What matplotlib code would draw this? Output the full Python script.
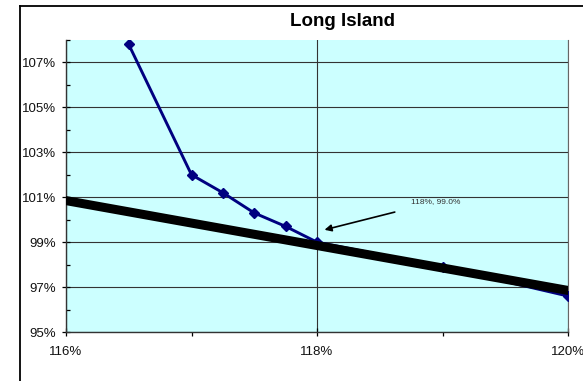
import matplotlib.pyplot as plt
from matplotlib.ticker import FixedLocator, FuncFormatter
from matplotlib.lines import Line2D

plt.rcParams['font.family'] = ['Liberation Sans', 'DejaVu Sans']

# blue series
x_pts = [116.5, 117.0, 117.25, 117.5, 117.75, 118.0, 119.0, 120.0]
y_pts = [107.8, 102.0, 101.2, 100.3, 99.7, 99.0, 97.9, 96.6]

# straight black line
x_line = [116.0, 120.0]
y_line = [100.85, 96.85]

x_major = [116, 118, 120]
x_minor = [117, 119]
y_major = [95, 97, 99, 101, 103, 105, 107]
y_minor = [96, 98, 100, 102, 104, 106, 108]

note_xy = (118.06, 99.55)
note_text = '118%, 99.0%'

fig = plt.figure(figsize=(5.83, 3.81), dpi=100)
ax = fig.add_axes([66 / 583, 1 - 332 / 381, (568 - 66) / 583, (332 - 40) / 381])
ax.set_facecolor('#CCFFFF')

ax.plot(x_pts, y_pts, color='#000080', lw=2.1, marker='D', ms=5.5, zorder=3)
ax.plot(x_line, y_line, color='black', lw=6.5, solid_capstyle='round', zorder=4)

ax.set_xlim(116, 120)
ax.set_ylim(95, 108)
ax.xaxis.set_major_locator(FixedLocator(x_major))
ax.xaxis.set_minor_locator(FixedLocator(x_minor))
ax.yaxis.set_major_locator(FixedLocator(y_major))
ax.yaxis.set_minor_locator(FixedLocator(y_minor))
pct = FuncFormatter(lambda v, p: '%d%%' % v)
ax.xaxis.set_major_formatter(pct)
ax.yaxis.set_major_formatter(pct)

ax.grid(True, which='major', color='#333333', lw=0.8, zorder=1)
ax.set_axisbelow(True)
ax.tick_params(which='major', direction='inout', length=6, width=0.9,
               labelsize=9.5, labelcolor='#111111', pad=4)
ax.tick_params(which='minor', length=3, width=0.9)
ax.tick_params(axis='y', which='minor', direction='in')
ax.tick_params(axis='x', which='minor', direction='out')
ax.tick_params(axis='x', pad=7)

ax.spines['top'].set_visible(False)
for s in ['left', 'bottom']:
    ax.spines[s].set_color('#333333')
    ax.spines[s].set_linewidth(1)
ax.spines['right'].set_color('#666666')

ax.annotate(note_text, xy=note_xy, xytext=(118.75, 100.8), fontsize=6,
            color='#333333', ha='left', va='center',
            arrowprops=dict(arrowstyle='-|>', color='black', lw=1.2,
                            mutation_scale=10, shrinkA=12, shrinkB=0))

fig.text(342 / 583, 1 - 21 / 381, 'Long Island', ha='center', va='center',
         fontsize=13.5, fontweight='bold')

# outer chart border (left and top edges)
fig.add_artist(Line2D([20 / 583, 20 / 583], [0, 1 - 6 / 381], color='black', lw=1.3))
fig.add_artist(Line2D([20 / 583, 1], [1 - 6 / 381, 1 - 6 / 381], color='black', lw=1.3))

fig.savefig('out.png', dpi=100)
